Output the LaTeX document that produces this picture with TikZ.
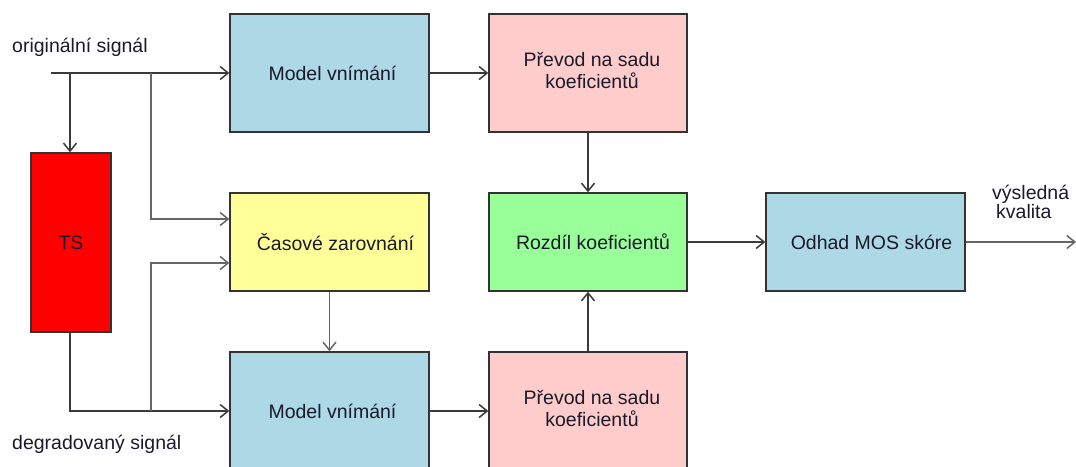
\documentclass[tikz,border=0pt]{standalone}
\usepackage{fontspec}
\setmainfont{Liberation Sans}
\usetikzlibrary{arrows.meta,calc}
\definecolor{boxblue}{HTML}{ADD8E6}
\definecolor{boxpink}{HTML}{FFCCCC}
\definecolor{boxyellow}{HTML}{FFFF99}
\definecolor{boxgreen}{HTML}{99FF99}
\definecolor{boxred}{HTML}{FF0000}
\definecolor{edgegray}{HTML}{333333}
\definecolor{linegray}{HTML}{3A3A3A}
\definecolor{linelight}{HTML}{666666}
\definecolor{txt}{HTML}{1A1A2A}
\tikzset{
  blk/.style={draw=edgegray, line width=1.4pt, inner sep=0pt, align=center,
              text=txt, font=\fontsize{19.5}{22}\selectfont},
  txtonly/.style={inner sep=0pt, align=center, text=txt, font=\fontsize{19.5}{22}\selectfont},
  arr/.style={draw=linegray, line width=1.5pt, -{Straight Barb[length=8pt,width=13pt,line width=1.5pt]}},
  arrl/.style={arr, draw=linelight},
  lbl/.style={inner sep=0pt, text=txt, font=\fontsize{19.5}{17}\selectfont, align=left}
}
\begin{document}
\begin{tikzpicture}[x=1pt,y=-1pt]
\useasboundingbox (0,0) rectangle (1076,466);
% boxes
\node[blk, fill=boxblue, minimum width=199pt, minimum height=118pt] (mv1) at (329.5,73) {\hspace{6pt}Model vnímání};
\node[blk, fill=boxpink, minimum width=198pt, minimum height=118pt] (pr1) at (588,73) {};
\node[txtonly] (pr1t) at (592,70) {Převod na sadu\\koeficientů};
\node[blk, fill=boxyellow, minimum width=199pt, minimum height=98pt] (cz) at (329.5,242) {\hspace{12pt}Časové zarovnání};
\node[blk, fill=boxgreen, minimum width=198pt, minimum height=98pt] (rz) at (588,242) {\hspace{10pt}Rozdíl koeficientů};
\node[blk, fill=boxblue, minimum width=199pt, minimum height=98pt] (od) at (865.5,242) {\hspace{12pt}Odhad MOS skóre};
\node[blk, fill=boxred, minimum width=80pt, minimum height=179pt] (ts) at (71,242.5) {TS};
\node[blk, fill=boxblue, minimum width=199pt, minimum height=118pt] (mv2) at (329.5,411) {\hspace{6pt}Model vnímání};
\node[blk, fill=boxpink, minimum width=198pt, minimum height=118pt] (pr2) at (588,411) {};
\node[txtonly] (pr2t) at (592,408) {Převod na sadu\\koeficientů};
% labels
\node[lbl, anchor=west] (lo) at (12,47) {originální signál};
\node[lbl, anchor=west] (ld) at (12,444) {degradovaný signál};
\node[lbl, anchor=north west] (lv) at (992,185) {výsledná\\\hspace{4pt}kvalita};
% coordinates
\coordinate (in1) at (51,73);
\coordinate (j1) at (70,73);
\coordinate (j2) at (151,73);
\coordinate (j3) at (151,411);
\coordinate (out) at (1076,242);
% connectors
\draw[arr] (in1) -- (mv1.west);
\draw[arr] (j1) -- (j1 |- ts.north);
\draw[arrl] (j2) |- ([yshift=23pt]cz.west);
\draw[arr] (ts.south -| j1) |- (mv2.west);
\draw[arrl] (j3) |- ([yshift=-21pt]cz.west);
\draw[arrl] (cz.south) -- (mv2.north);
\draw[arr] (mv1.east) -- (pr1.west);
\draw[arr] (mv2.east) -- (pr2.west);
\draw[arr] (pr1.south) -- (rz.north);
\draw[arr] (pr2.north) -- (rz.south);
\draw[arr] (rz.east) -- (od.west);
\draw[arrl] (od.east) -- (out);
\end{tikzpicture}
\end{document}
